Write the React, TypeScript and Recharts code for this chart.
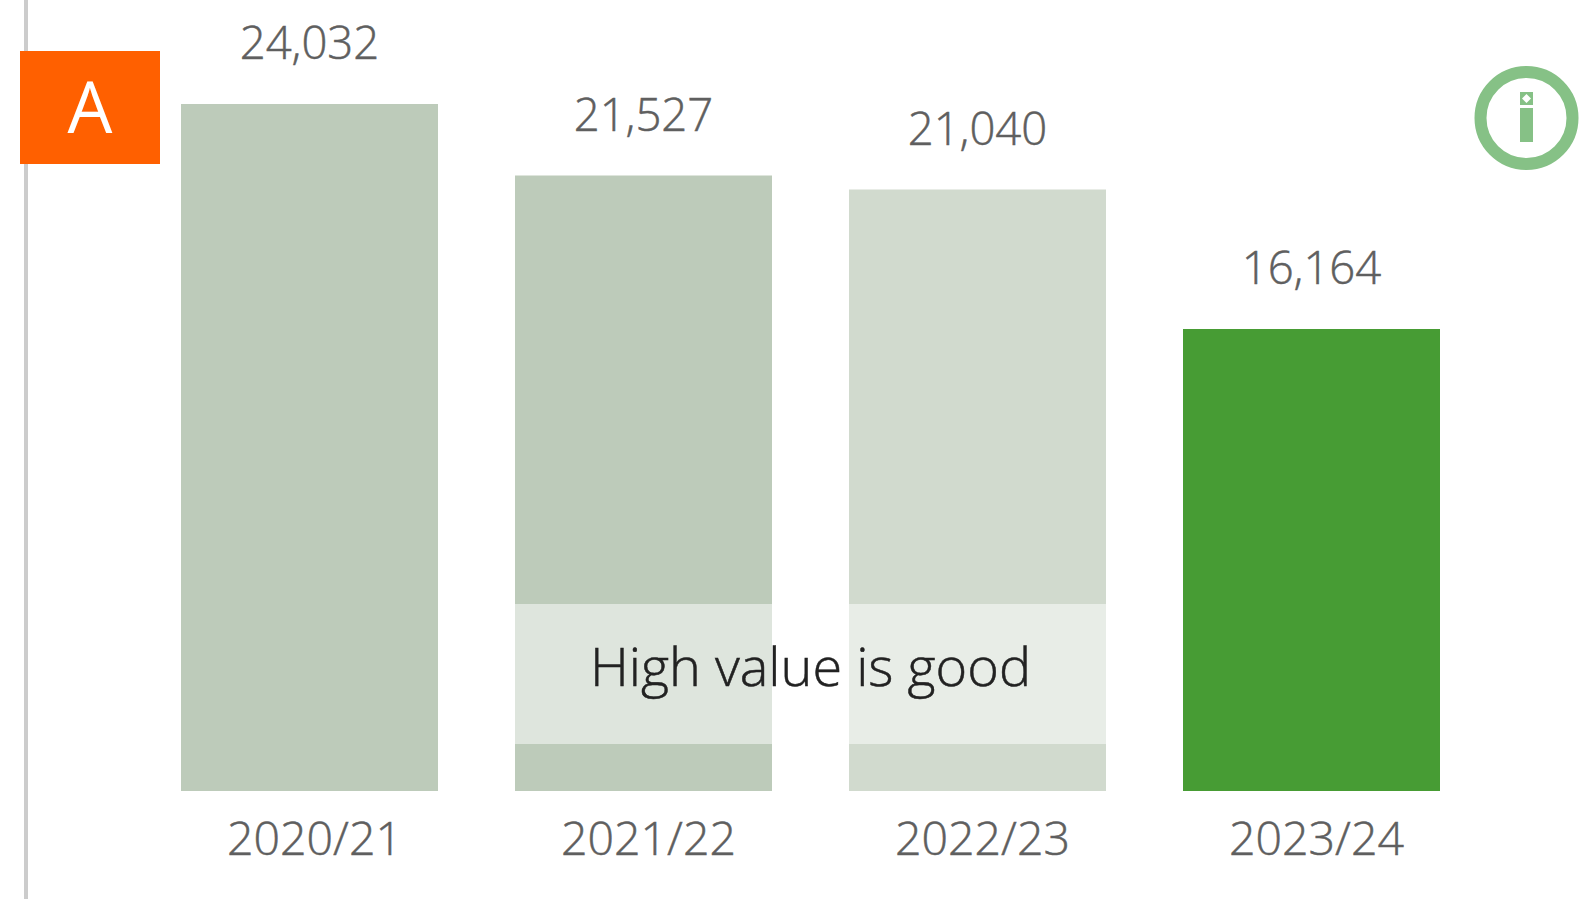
import { BarChart, Bar, Cell, LabelList, XAxis, YAxis } from "recharts";

const years = ["2020/21", "2021/22", "2022/23", "2023/24"];
const values = [24032, 21527, 21040, 16164];
const barColors = ["#bdcbba", "#bdcbba", "#d1dace", "#479c34"];
const chartData = years.map((year, i) => ({ year, value: values[i] }));

const FONT = "'Open Sans', sans-serif";
const GREY = "#5f5f5f";

function YearTick({ x, y, payload }: any) {
  return (
    <text
      x={x + 5}
      y={y}
      dy={55.5}
      textAnchor="middle"
      fontFamily={FONT}
      fontSize={46.5}
      fontWeight={300}
      fill={GREY}
      stroke={GREY}
      strokeWidth={0.5}
    >
      {payload.value}
    </text>
  );
}

export default function App() {
  return (
    <div style={{ position: "absolute", left: 0, top: 0, width: 1583, height: 899, background: "#fff", overflow: "hidden" }}>
      <div style={{ position: "absolute", left: 24, top: 0, width: 4, height: 899, background: "#cccccc" }} />

      <div style={{ position: "absolute", left: 0, top: 0 }}>
        <BarChart
          width={1583}
          height={899}
          data={chartData}
          margin={{ top: 104, right: 104.5, bottom: 0, left: 142.5 }}
          barCategoryGap={38.5}
        >
          <XAxis
            dataKey="year"
            axisLine={false}
            tickLine={false}
            height={108}
            interval={0}
            tick={<YearTick />}
          />
          <YAxis hide domain={[0, 24032]} />
          <Bar dataKey="value" isAnimationActive={false}>
            {chartData.map((d, i) => (
              <Cell key={d.year} fill={barColors[i]} />
            ))}
            <LabelList
              dataKey="value"
              position="top"
              offset={45}
              formatter={(v: any) => Number(v).toLocaleString("en-US")}
              style={{ fontFamily: FONT, fontSize: 45.5, fontWeight: 300, fill: GREY, stroke: GREY, strokeWidth: 0.5 }}
            />
          </Bar>
        </BarChart>
      </div>

      {/* translucent strip with the note, sits over the two middle bars */}
      <div
        style={{
          position: "absolute",
          left: 515,
          top: 604,
          width: 591,
          height: 140,
          background: "rgba(255,255,255,0.5)",
          color: "#222222",
          fontFamily: FONT,
          fontSize: 54,
          fontWeight: 300,
          lineHeight: "123px",
          textAlign: "center",
          whiteSpace: "nowrap",
          WebkitTextStroke: "0.5px #222222",
        }}
      >
        High value is good
      </div>

      <div
        style={{
          position: "absolute",
          left: 20,
          top: 51,
          width: 140,
          height: 113,
          background: "#ff6000",
          color: "#fff",
          fontFamily: FONT,
          fontSize: 71,
          lineHeight: "109px",
          textAlign: "center",
        }}
      >
        A
      </div>

      <svg style={{ position: "absolute", left: 1470, top: 60 }} width={113} height={116} viewBox="1470 60 113 116">
        <circle cx={1526.5} cy={118} r={46} fill="none" stroke="#86c186" strokeWidth={12} />
        <rect x={1520} y={108} width={13} height={34} fill="#86c186" />
        <rect x={1520} y={92} width={13} height={13} fill="#86c186" />
        <polygon points="1526.5,94 1531,98.5 1526.5,103 1522,98.5" fill="#fff" />
      </svg>
    </div>
  );
}
